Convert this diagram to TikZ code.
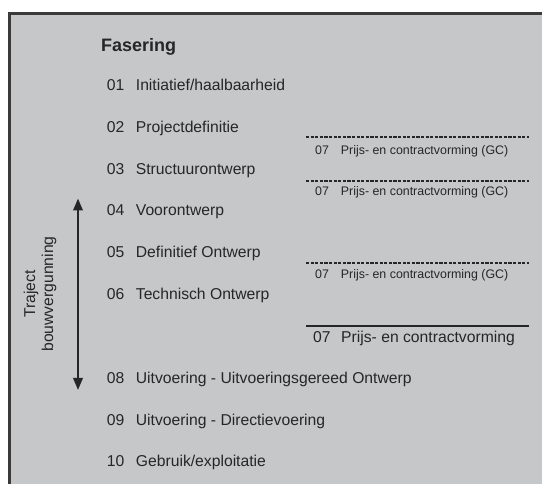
\documentclass[tikz,border=0pt]{standalone}
\usepackage{fontspec}
\setmainfont{Liberation Sans}
\usetikzlibrary{arrows.meta}
\definecolor{panel}{HTML}{C6C7C9}
\definecolor{frame}{HTML}{3A3A3A}
\definecolor{ink}{HTML}{262626}
\tikzset{
  txt/.style={inner sep=0pt, text=ink, text height=.72em, text depth=0pt, anchor=west},
  phase/.style={txt, font=\fontsize{15.7}{18}\selectfont},
  small/.style={txt, font=\fontsize{12.4}{14}\selectfont},
  dashline/.style={draw=ink, line width=2pt, dash pattern=on 3.2pt off 1.4pt},
  solidline/.style={draw=ink, line width=2.2pt},
  span/.style={draw=ink, line width=2pt, {Triangle[width=9.5pt,length=12pt]}-{Triangle[width=9.5pt,length=12pt]}}
}
\begin{document}
\begin{tikzpicture}[x=1pt,y=-1pt]
  \useasboundingbox (0,0) rectangle (542,484);
  % panel
  \fill[white] (0,0) rectangle (542,484);
  \fill[panel] (9.5,13.5) rectangle (545,490);
  \draw[frame, line width=3pt] (9.5,490) -- (9.5,13.5) -- (545,13.5);

  % heading
  \node[txt, font=\bfseries\fontsize{18}{20}\selectfont] (head) at (101,48) {Fasering};

  % phases
  \foreach \n/\t/\y in {01/Initiatief\slash haalbaarheid/87,
                        02/Projectdefinitie/129.3,
                        03/Structuurontwerp/171,
                        04/Voorontwerp/212,
                        05/Definitief Ontwerp/254.3,
                        06/Technisch Ontwerp/295.5,
                        08/Uitvoering - Uitvoeringsgereed Ontwerp/380,
                        09/Uitvoering - Directievoering/421.5,
                        10/Gebruik\slash exploitatie/463}{
    \node[phase] (n\n) at (106.7,\y) {\n};
    \node[phase] (t\n) at (135.7,\y) {\t};
  }

  % tender moments
  \coordinate (da1) at (306,136.7); \coordinate (db1) at (529,136.7);
  \coordinate (da2) at (306,180.7); \coordinate (db2) at (529,180.7);
  \coordinate (da3) at (306,263.3); \coordinate (db3) at (529,263.3);
  \coordinate (sa)  at (306,326);   \coordinate (sb)  at (529,326);
  \draw[dashline] (da1) -- (db1);
  \draw[dashline] (da2) -- (db2);
  \draw[dashline] (da3) -- (db3);
  \draw[solidline] (sa) -- (sb);
  \foreach \i/\y in {1/150.5, 2/191.5, 3/274.5}{
    \node[small] (gn\i) at (315,\y) {07};
    \node[small] (gt\i) at (340.7,\y) {Prijs- en contractvorming (GC)};
  }
  \node[phase] (pn) at (313,338.5) {07};
  \node[phase] (pt) at (341,338.5) {Prijs- en contractvorming};

  % building permit track
  \coordinate (top) at (78,198.5);
  \coordinate (bot) at (78,390);
  \draw[span] (top) -- (bot);
  \node[inner sep=0pt, text=ink, rotate=90, align=center,
        font=\fontsize{15.7}{18}\selectfont] (permit) at (40,294)
        {Traject\\bouwvergunning};
\end{tikzpicture}
\end{document}
